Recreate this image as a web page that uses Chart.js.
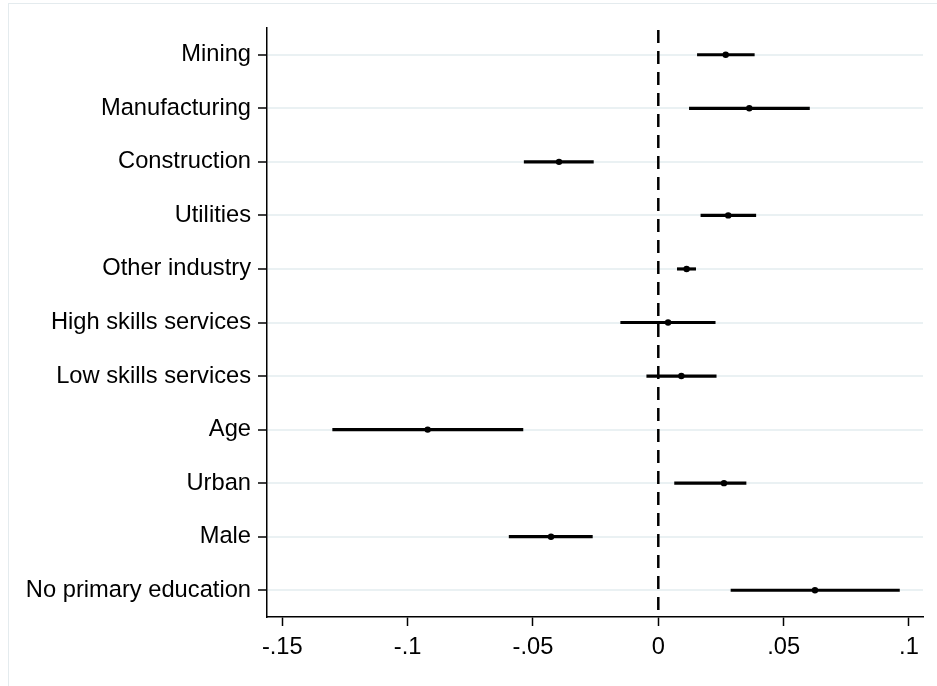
<!DOCTYPE html>
<html>
<head>
<meta charset="utf-8">
<script src="https://cdn.jsdelivr.net/npm/chart.js@4/dist/chart.umd.min.js"></script>
<style>
  html, body { margin: 0; padding: 0; background: #fff; }
  canvas { display: block; }
</style>
</head>
<body>
<canvas id="coefChart" width="937" height="686"></canvas>
<script>
const categories = [
  'Mining', 'Manufacturing', 'Construction', 'Utilities', 'Other industry',
  'High skills services', 'Low skills services', 'Age', 'Urban', 'Male',
  'No primary education'
];
const estimates = [0.0269, 0.0363, -0.0396, 0.0279, 0.0113, 0.0039, 0.0092, -0.0920, 0.0262, -0.0428, 0.0625];
const ciLow     = [0.0156, 0.0124, -0.0535, 0.0170, 0.0076, -0.0150, -0.0046, -0.1299, 0.0065, -0.0595, 0.0290];
const ciHigh    = [0.0383, 0.0603, -0.0259, 0.0389, 0.0149, 0.0227, 0.0231, -0.0540, 0.0350, -0.0263, 0.0962];
const xTickValues = [-0.15, -0.1, -0.05, 0, 0.05, 0.1];
const xTickLabels = ['-.15', '-.1', '-.05', '0', '.05', '.1'];

const fontFamily = '"Liberation Sans", Arial, Helvetica, sans-serif';

// cadre gris clair autour du graphique + ligne pointillée à zéro
const framePlugin = {
  id: 'frame',
  beforeDraw(chart) {
    const c = chart.ctx;
    c.save();
    c.fillStyle = '#fff';
    c.fillRect(0, 0, chart.width, chart.height);
    c.strokeStyle = '#e4ebee';
    c.lineWidth = 1;
    c.strokeRect(8.5, 3.5, chart.width + 10, chart.height + 10);
    c.restore();
  },
  afterDatasetsDraw(chart) {
    const c = chart.ctx;
    const area = chart.chartArea;
    const x = chart.scales.x.getPixelForValue(0);
    c.save();
    c.strokeStyle = '#000';
    c.lineWidth = 2.5;
    c.setLineDash([13, 8]);
    c.beginPath();
    c.moveTo(x, area.top + 2);
    c.lineTo(x, area.bottom);
    c.stroke();
    c.restore();
  }
};

new Chart(document.getElementById('coefChart').getContext('2d'), {
  data: {
    labels: categories,
    datasets: [
      {
        type: 'bar',
        data: ciLow.map((lo, i) => [lo, ciHigh[i]]),
        backgroundColor: '#000',
        borderWidth: 0,
        barThickness: 2.5,
        grouped: false
      },
      {
        type: 'line',
        data: estimates,
        showLine: false,
        pointRadius: 3.2,
        pointBackgroundColor: '#000',
        pointBorderColor: '#000',
        pointBorderWidth: 0
      }
    ]
  },
  options: {
    indexAxis: 'y',
    responsive: false,
    animation: false,
    layout: { padding: { left: 8, right: 14, top: 28, bottom: 0 } },
    plugins: {
      legend: { display: false },
      tooltip: { enabled: false }
    },
    scales: {
      x: {
        type: 'linear',
        min: -0.1561,
        max: 0.1056,
        afterBuildTicks: s => { s.ticks = xTickValues.map(v => ({ value: v })); },
        afterFit: s => { s.height = 69; },
        ticks: {
          callback: (v, i) => xTickLabels[i],
          font: { family: fontFamily, size: 23.7 },
          color: '#000',
          padding: 7,
          maxRotation: 0,
          autoSkip: false
        },
        grid: {
          drawOnChartArea: false,
          color: '#000',
          tickLength: 9,
          tickWidth: 1.5
        },
        border: { color: '#000', width: 1.5 }
      },
      y: {
        type: 'category',
        offset: true,
        afterFit: s => { s.width = 259; },
        ticks: {
          font: { family: fontFamily, size: 23.7 },
          color: '#000',
          padding: 7,
          autoSkip: false
        },
        grid: {
          color: '#eaf1f3',
          lineWidth: 2,
          tickColor: '#000',
          tickLength: 9,
          tickWidth: 1.5,
          offset: false
        },
        border: { color: '#000', width: 1.5 }
      }
    }
  },
  plugins: [framePlugin]
});
</script>
</body>
</html>
